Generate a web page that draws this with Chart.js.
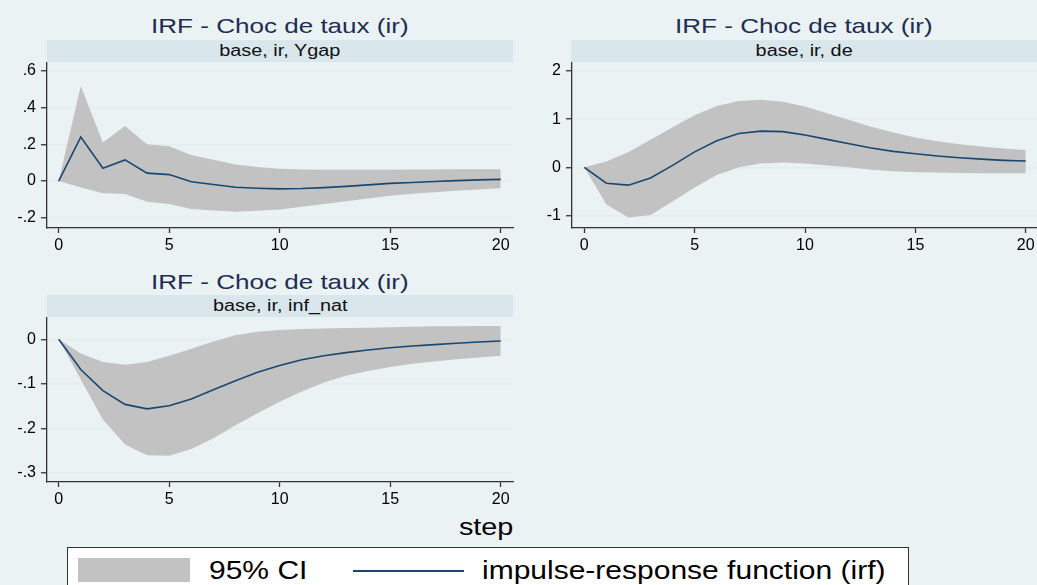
<!DOCTYPE html>
<html>
<head>
<meta charset="utf-8">
<script src="https://cdn.jsdelivr.net/npm/chart.js@4.4.1/dist/chart.umd.min.js"></script>
<style>
  body { margin: 0; background: #eaf2f3; width: 1037px; height: 585px; overflow: hidden; position: relative;
         font-family: Arial, "Liberation Sans", sans-serif; }
  .title { position: absolute; text-align: center; color: #1e2d52; font-size: 21px; line-height: 24px; white-space: nowrap; }
  .strip { position: absolute; background: #d9e6eb; text-align: center; font-size: 16px; line-height: 22px; color: #111; white-space: nowrap; }
  .sx { display: inline-block; transform: scaleX(1.24); }
  .box { position: absolute; }
  #legend { position: absolute; left: 67px; top: 547px; width: 840px; height: 45px; background: #fff; border: 1px solid #333; }
  #step { position: absolute; left: 420px; width: 93px; top: 513px; text-align: right; font-size: 24px; line-height: 28px; }
  #step .sx { transform-origin: right center; transform: scaleX(1.2); }
</style>
</head>
<body>

<div class="title" style="left:47px;width:466px;top:14px"><span class="sx">IRF - Choc de taux (ir)</span></div>
<div class="strip" style="left:47px;width:466px;top:40px;height:22px"><span class="sx">base, ir, Ygap</span></div>
<div class="box" style="left:0;top:62px"><canvas id="c1" width="520" height="192"></canvas></div>

<div class="title" style="left:571px;width:466px;top:14px"><span class="sx">IRF - Choc de taux (ir)</span></div>
<div class="strip" style="left:571px;width:466px;top:40px;height:22px"><span class="sx">base, ir, de</span></div>
<div class="box" style="left:525px;top:62px"><canvas id="c2" width="512" height="192"></canvas></div>

<div class="title" style="left:47px;width:466px;top:270px"><span class="sx">IRF - Choc de taux (ir)</span></div>
<div class="strip" style="left:47px;width:466px;top:295px;height:22px"><span class="sx">base, ir, inf_nat</span></div>
<div class="box" style="left:0;top:317px"><canvas id="c3" width="520" height="191"></canvas></div>

<div id="step"><span class="sx">step</span></div>

<div id="legend">
  <div style="position:absolute;left:10px;top:10px;width:112px;height:24px;background:#c2c2c2"></div>
  <div style="position:absolute;left:141px;top:8px;font-size:25px;line-height:28px;transform:scaleX(1.2);transform-origin:left center">95% CI</div>
  <div style="position:absolute;left:285px;top:22px;width:111px;height:2px;background:#1a476f"></div>
  <div style="position:absolute;left:414px;top:8px;font-size:25px;line-height:28px;transform:scaleX(1.2);transform-origin:left center;white-space:nowrap">impulse-response function (irf)</div>
</div>

<script>
var steps = [0, 1, 2, 3, 4, 5, 6, 7, 8, 9, 10, 11, 12, 13, 14, 15, 16, 17, 18, 19, 20];
var xTicks = [0, 5, 10, 15, 20];

// base, ir, Ygap
var ygapIrf = [0, 0.24, 0.07, 0.115, 0.043, 0.035, -0.004, -0.019, -0.034, -0.039, -0.043, -0.041, -0.036, -0.029, -0.021, -0.013, -0.008, -0.003, 0.002, 0.006, 0.009];
var ygapHi  = [0, 0.518, 0.21, 0.30, 0.20, 0.19, 0.142, 0.116, 0.09, 0.076, 0.067, 0.063, 0.062, 0.062, 0.062, 0.062, 0.063, 0.063, 0.064, 0.064, 0.064];
var ygapLo  = [0, -0.036, -0.067, -0.071, -0.113, -0.125, -0.153, -0.16, -0.167, -0.162, -0.155, -0.14, -0.125, -0.11, -0.095, -0.08, -0.07, -0.061, -0.053, -0.046, -0.04];
var yTicksYgap = [-0.2, 0, 0.2, 0.4, 0.6];

// base, ir, de
var deIrf = [0, -0.33, -0.37, -0.22, 0.04, 0.32, 0.55, 0.70, 0.75, 0.74, 0.67, 0.58, 0.49, 0.40, 0.33, 0.28, 0.235, 0.2, 0.17, 0.145, 0.13];
var deHi  = [0, 0.12, 0.32, 0.57, 0.83, 1.08, 1.27, 1.375, 1.40, 1.36, 1.26, 1.12, 0.98, 0.84, 0.72, 0.62, 0.54, 0.48, 0.43, 0.39, 0.36];
var deLo  = [0, -0.77, -1.04, -0.99, -0.71, -0.42, -0.16, 0, 0.08, 0.1, 0.08, 0.04, 0.0, -0.05, -0.08, -0.10, -0.11, -0.118, -0.122, -0.124, -0.125];
var yTicksDe = [-1, 0, 1, 2];

// base, ir, inf_nat
var infIrf = [0, -0.068, -0.115, -0.146, -0.156, -0.149, -0.134, -0.113, -0.093, -0.074, -0.059, -0.046, -0.037, -0.030, -0.024, -0.019, -0.015, -0.012, -0.009, -0.006, -0.004];
var infHi  = [0, -0.032, -0.051, -0.057, -0.051, -0.037, -0.021, -0.005, 0.009, 0.017, 0.021, 0.023, 0.024, 0.025, 0.026, 0.027, 0.028, 0.029, 0.029, 0.030, 0.030];
var infLo  = [0, -0.09, -0.18, -0.236, -0.26, -0.261, -0.246, -0.222, -0.193, -0.166, -0.14, -0.117, -0.097, -0.082, -0.071, -0.062, -0.055, -0.05, -0.045, -0.041, -0.037];
var yTicksInf = [-0.3, -0.2, -0.1, 0];

var axisCol = '#333333';
var gridCol = '#e3ecef';
var tickFont = { size: 16, family: 'Arial, "Liberation Sans", sans-serif' };

// stata style: .6 instead of 0.6
function fmt(v) {
  var s = String(Math.round(v * 1000) / 1000);
  return s.replace(/^(-?)0\./, '$1.');
}

function panel(id, irf, hi, lo, yTicks, ymin, ymax, xmin, xmax, padRight) {
  new Chart(document.getElementById(id).getContext('2d'), {
    type: 'line',
    data: {
      labels: steps,
      datasets: [{
        data: irf,
        borderColor: '#1a476f',
        borderWidth: 1.6,
        pointRadius: 0,
        tension: 0,
        fill: false
      }, {
        data: hi,
        borderWidth: 0,
        borderColor: 'transparent',
        backgroundColor: '#c2c2c2',
        pointRadius: 0,
        tension: 0,
        fill: '+1'
      }, {
        data: lo,
        borderWidth: 0,
        borderColor: 'transparent',
        pointRadius: 0,
        tension: 0,
        fill: false
      }]
    },
    options: {
      responsive: false,
      animation: false,
      layout: { padding: { left: 0, right: padRight, top: 0, bottom: 0 } },
      plugins: { legend: { display: false }, tooltip: { enabled: false } },
      scales: {
        x: {
          type: 'linear',
          min: xmin,
          max: xmax,
          afterBuildTicks: function (s) { s.ticks = xTicks.map(function (v) { return { value: v }; }); },
          afterFit: function (s) { s.height = 26; s.paddingLeft = 0; s.paddingRight = 0; },
          border: { display: true, color: axisCol, width: 1.3 },
          grid: { display: true, drawOnChartArea: false, drawTicks: true, tickLength: 5, tickColor: axisCol, tickWidth: 1.3 },
          ticks: { color: '#000', font: tickFont, padding: 3, maxRotation: 0, autoSkip: false,
                   callback: function (v) { return fmt(v); } }
        },
        y: {
          type: 'linear',
          min: ymin,
          max: ymax,
          afterBuildTicks: function (s) { s.ticks = yTicks.map(function (v) { return { value: v }; }); },
          afterFit: function (s) { s.width = 47; s.paddingTop = 0; s.paddingBottom = 0; },
          border: { display: true, color: axisCol, width: 1.3 },
          grid: { display: true, drawOnChartArea: true, drawTicks: true, tickLength: 6, color: gridCol, lineWidth: 1.5,
                  tickColor: axisCol, tickWidth: 1.3 },
          ticks: { color: '#000', font: tickFont, padding: 5, autoSkip: false,
                   callback: function (v) { return fmt(v); } }
        }
      }
    }
  });
}

panel('c1', ygapIrf, ygapHi, ygapLo, yTicksYgap, -0.256, 0.6485, -0.529, 20.557, 7);
panel('c2', deIrf, deHi, deLo, yTicksDe, -1.259, 2.185, -0.557, 20.51, 0);
panel('c3', infIrf, infHi, infLo, yTicksInf, -0.320, 0.0499, -0.529, 20.557, 7);
</script>
</body>
</html>
